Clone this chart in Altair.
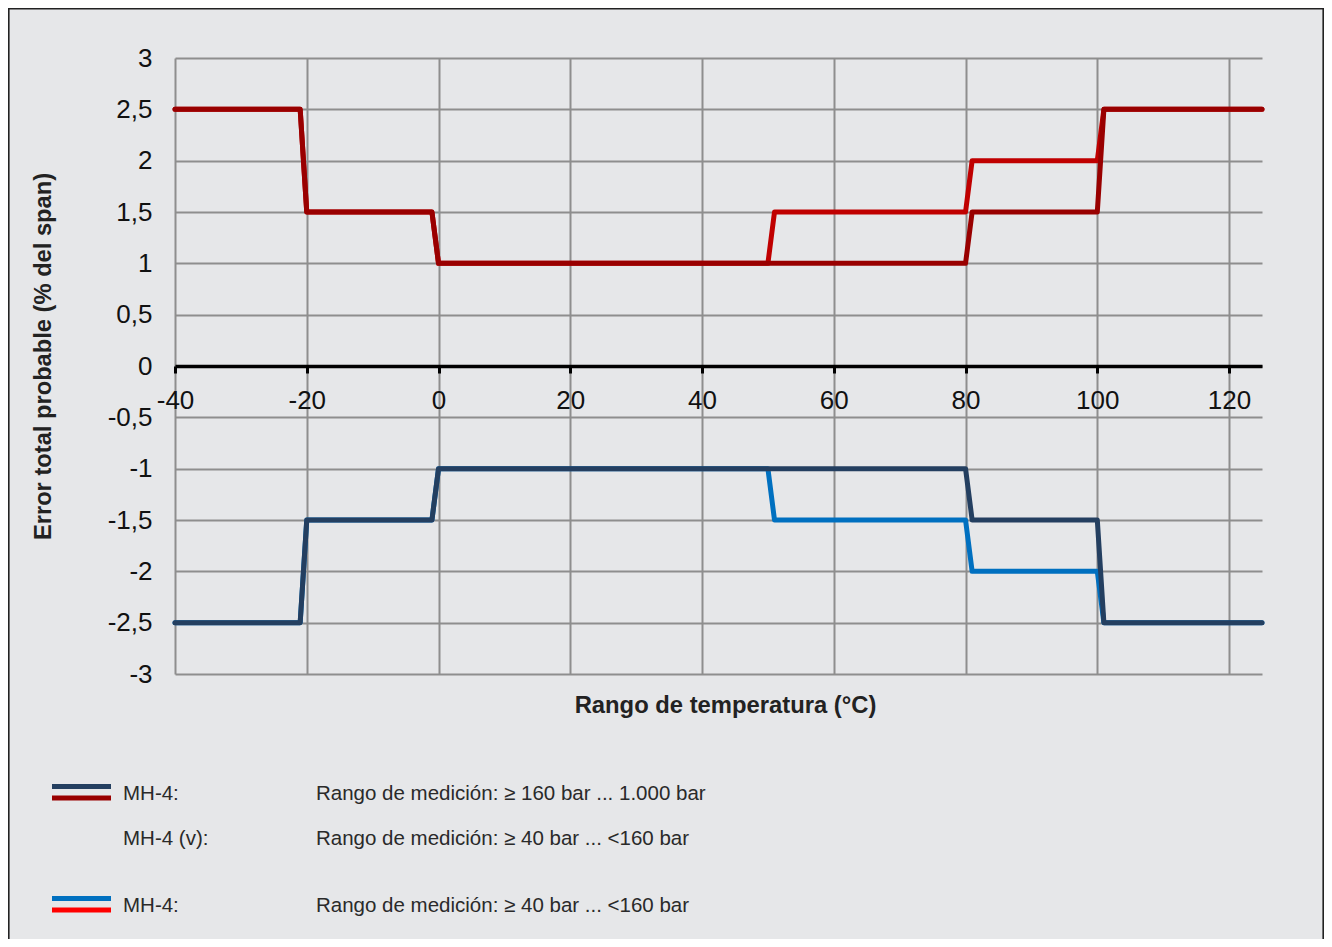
import altair as alt
import pandas as pd

# ---------------- data ----------------
x_mh4 = [-40, -21, -20, -1, 0, 80, 81, 100, 101, 125]
y_mh4_pos = [2.5, 2.5, 1.5, 1.5, 1, 1, 1.5, 1.5, 2.5, 2.5]
y_mh4_neg = [-2.5, -2.5, -1.5, -1.5, -1, -1, -1.5, -1.5, -2.5, -2.5]

x_mh4_low = [-40, -21, -20, -1, 0, 50, 51, 80, 81, 100, 101, 125]
y_mh4_low_pos = [2.5, 2.5, 1.5, 1.5, 1, 1, 1.5, 1.5, 2, 2, 2.5, 2.5]
y_mh4_low_neg = [-2.5, -2.5, -1.5, -1.5, -1, -1, -1.5, -1.5, -2, -2, -2.5, -2.5]

x_ticks = [-40, -20, 0, 20, 40, 60, 80, 100, 120]
y_ticks = [-3, -2.5, -2, -1.5, -1, -0.5, 0, 0.5, 1, 1.5, 2, 2.5, 3]

legend_names = ["MH-4:", "MH-4 (v):", "MH-4:"]
legend_ranges = [
    "Rango de medición: ≥ 160 bar ... 1.000 bar",
    "Rango de medición: ≥ 40 bar ... <160 bar",
    "Rango de medición: ≥ 40 bar ... <160 bar",
]

# series in drawing order (lighter variants underneath)
series = [
    ("low_pos", x_mh4_low, y_mh4_low_pos, "#c00000"),
    ("low_neg", x_mh4_low, y_mh4_low_neg, "#0070c0"),
    ("hi_pos", x_mh4, y_mh4_pos, "#990000"),
    ("hi_neg", x_mh4, y_mh4_neg, "#243f60"),
]

rows = []
for name, xs, ys, _ in series:
    for i, (xv, yv) in enumerate(zip(xs, ys)):
        rows.append({"series": name, "x": xv, "y": yv, "idx": i})
df = pd.DataFrame(rows)

FONT = "Liberation Sans"
BG = "#e6e7e9"
GRID = "#8e8e8e"

xscale = alt.Scale(domain=[-40, 125], nice=False, zero=False)
yscale = alt.Scale(domain=[-3, 3], nice=False, zero=False)

xaxis = alt.Axis(
    title="Rango de temperatura (°C)",
    values=x_ticks,
    labelExpr="toString(datum.value)",
    orient="bottom",
    offset=-308,
    domain=True, domainColor="#000000", domainWidth=3.5,
    ticks=True, tickColor="#000000", tickWidth=3, tickSize=7,
    grid=True, gridColor=GRID, gridWidth=2,
    labelFont=FONT, labelFontSize=26, labelColor="#111111",
    labelPadding=14, labelFlush=False, labelOverlap=False,
    titleFont=FONT, titleFontSize=23.8, titleFontWeight="bold", titleColor="#222222",
    titleX=550, titleY=339, titleBaseline="middle", titleAnchor="start", titleAlign="center",
)
yaxis = alt.Axis(
    title="Error total probable (% del span)",
    values=y_ticks,
    labelExpr="replace(toString(datum.value), '.', ',')",
    domain=False, ticks=False, tickSize=0,
    grid=True, gridColor=GRID, gridWidth=2,
    labelFont=FONT, labelFontSize=26, labelColor="#111111",
    labelPadding=23, labelOverlap=False,
    titleFont=FONT, titleFontSize=23.7, titleFontWeight="bold", titleColor="#222222",
    titleX=-132, titleY=298, titleBaseline="middle", titleAngle=270, titleAlign="center",
)

layers = []
for name, _, _, color in series:
    layers.append(
        alt.Chart(df)
        .transform_filter(alt.datum.series == name)
        .mark_line(color=color, strokeWidth=5, strokeCap="round", strokeJoin="round")
        .encode(
            x=alt.X("x:Q", scale=xscale, axis=xaxis),
            y=alt.Y("y:Q", scale=yscale, axis=yaxis),
            order="idx:Q",
        )
    )

one = pd.DataFrame({"k": [0]})

# outer frame
frame = alt.Chart(one).mark_rect(filled=False, stroke="#222222", strokeWidth=1.6).encode(
    x=alt.value(-166.2), x2=alt.value(1148.2), y=alt.value(-49.2), y2=alt.value(1000)
)
layers.append(frame)

# legend swatches
swatches = [
    (728.5, "#243f60"), (740, "#990000"),
    (840.5, "#0070c0"), (852, "#ff0000"),
]
for yy, col in swatches:
    layers.append(
        alt.Chart(one).mark_rule(color=col, strokeWidth=5, strokeCap="butt").encode(
            x=alt.value(-123), x2=alt.value(-64), y=alt.value(yy)
        )
    )

legend_y = [736, 781, 848]
for nm, rg, yy in zip(legend_names, legend_ranges, legend_y):
    ldf = pd.DataFrame({"name": [nm], "range": [rg]})
    layers.append(
        alt.Chart(ldf).mark_text(align="left", baseline="middle", font=FONT, fontSize=20.5, color="#2a2a2a").encode(
            x=alt.value(-52), y=alt.value(yy), text="name:N"
        )
    )
    layers.append(
        alt.Chart(ldf).mark_text(align="left", baseline="middle", font=FONT, fontSize=20.5, color="#2a2a2a").encode(
            x=alt.value(141), y=alt.value(yy), text="range:N"
        )
    )

chart = (
    alt.layer(*layers)
    .properties(
        width=1087,
        height=616,
        padding={"left": 167, "top": 50, "right": 62, "bottom": 265},
        autosize=alt.AutoSizeParams(type="none"),
        background=BG,
    )
    .configure_view(strokeWidth=0)
)

chart.save("out.html", embed_options={"renderer": "svg", "actions": False})
